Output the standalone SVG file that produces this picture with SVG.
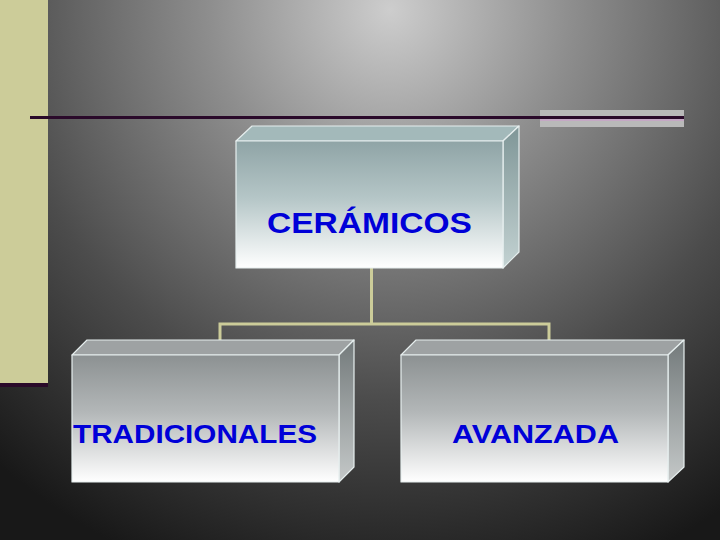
<svg xmlns="http://www.w3.org/2000/svg" width="720" height="540" viewBox="0 0 720 540">
<defs>
<radialGradient id="bg" gradientUnits="userSpaceOnUse" cx="390" cy="10" r="600">
<stop offset="0" stop-color="#cdcdcd"/>
<stop offset="0.3" stop-color="#8e8e8e"/>
<stop offset="0.65" stop-color="#4c4c4c"/>
<stop offset="1" stop-color="#181818"/>
</radialGradient>
<linearGradient id="frontTeal" x1="0" y1="0" x2="0" y2="1">
<stop offset="0" stop-color="#8fa4a6"/>
<stop offset="0.45" stop-color="#b5c6c7"/>
<stop offset="1" stop-color="#ffffff"/>
</linearGradient>
<linearGradient id="sideTeal" x1="0" y1="0" x2="0" y2="1">
<stop offset="0" stop-color="#7f9697"/>
<stop offset="1" stop-color="#c3d2d2"/>
</linearGradient>
<linearGradient id="frontGray" x1="0" y1="0" x2="0" y2="1">
<stop offset="0" stop-color="#8c9192"/>
<stop offset="0.45" stop-color="#b3b7b8"/>
<stop offset="1" stop-color="#ffffff"/>
</linearGradient>
<linearGradient id="sideGray" x1="0" y1="0" x2="0" y2="1">
<stop offset="0" stop-color="#737a7b"/>
<stop offset="1" stop-color="#c4c8c8"/>
</linearGradient>
</defs>
<style>
.edge{stroke:#e6eeee;stroke-width:1.2;stroke-linejoin:round}
.lbl{font-family:"Liberation Sans",Arial,sans-serif;font-weight:bold;fill:#0000d8}
.conn{stroke:#cccc99;stroke-width:3;fill:none}
</style>
<rect width="720" height="540" fill="url(#bg)"/>
<rect x="0" y="0" width="48" height="383" fill="#cccc99"/>
<rect x="0" y="383" width="48" height="4" fill="#2a0a2a"/>
<rect x="540" y="110" width="144" height="17" fill="#b9b9b9"/>
<rect x="540" y="118" width="144" height="3" fill="#c4a8c4"/>
<rect x="30" y="116" width="654" height="3" fill="#2a0a2a"/>
<g id="connectors">
<path class="conn" d="M371.5 268 V324 M220 324 H549 M220 322.5 V340 M549 322.5 V340"/>
</g>
<g id="node-ceramicos">
<polygon class="edge" points="236,141 252,126 519,126 503,141" fill="#a3b9ba"/>
<polygon class="edge" points="503,141 519,126 519,252 503,268" fill="url(#sideTeal)"/>
<rect class="edge" x="236" y="141" width="267" height="127" fill="url(#frontTeal)"/>
<text class="lbl" x="267" y="233" font-size="29" textLength="205" lengthAdjust="spacingAndGlyphs">CERÁMICOS</text>
</g>
<g id="node-tradicionales">
<polygon class="edge" points="72,355 87,340 354,340 339,355" fill="#9ea2a3"/>
<polygon class="edge" points="339,355 354,340 354,467 339,482" fill="url(#sideGray)"/>
<rect class="edge" x="72" y="355" width="267" height="127" fill="url(#frontGray)"/>
<text class="lbl" x="73" y="443" font-size="25" textLength="244" lengthAdjust="spacingAndGlyphs">TRADICIONALES</text>
</g>
<g id="node-avanzada">
<polygon class="edge" points="401,355 416,340 684,340 668,355" fill="#9ea2a3"/>
<polygon class="edge" points="668,355 684,340 684,467 668,482" fill="url(#sideGray)"/>
<rect class="edge" x="401" y="355" width="267" height="127" fill="url(#frontGray)"/>
<text class="lbl" x="452" y="443" font-size="25" textLength="167" lengthAdjust="spacingAndGlyphs">AVANZADA</text>
</g>
</svg>
